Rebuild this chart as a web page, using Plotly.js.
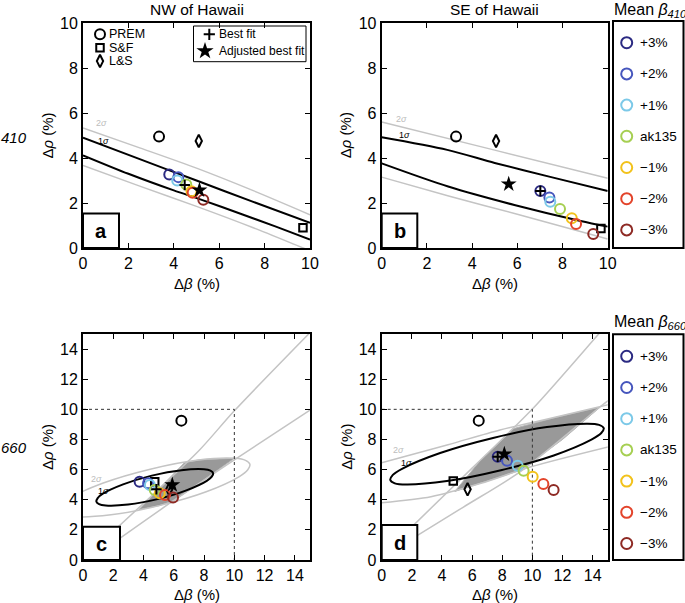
<!DOCTYPE html>
<html><head><meta charset="utf-8">
<script src="https://cdn.plot.ly/plotly-3.0.1.min.js"></script>
<style>html,body{margin:0;padding:0;background:#fff}#chart{width:685px;height:603px}</style>
</head><body><div id="chart"></div>
<script>
// ================= DATA =================
const meanLabels = ['+3%', '+2%', '+1%', 'ak135', '\u22121%', '\u22122%', '\u22123%'];
const meanColors = ['#2b2a82', '#4656bd', '#7cc9e8', '#a6cf52', '#f2c21b', '#e3442b', '#8e2a24'];
const refNames = ['PREM', 'S&F', 'L&S'];
const refSymbols = ['circle-open', 'square-open', 'diamond-tall-open'];
const refSizes = [10, 7.5, 9];
const fitNames = ['Best fit', 'Adjusted best fit'];

// Panel a: 410, NW of Hawaii
const aRefX = [3.35, 9.69, 5.1];
const aRefY = [4.95, 0.9, 4.76];
const aMeanX = [3.8, 4.2, 4.15, 4.55, 4.78, 4.83, 5.3];
const aMeanY = [3.27, 3.15, 3.0, 2.82, 2.52, 2.45, 2.14];
const aBestX = [4.48], aBestY = [2.8];
const aAdjX = [5.13], aAdjY = [2.57];
const a1UpX = [0, 2.5, 5, 7.5, 10], a1UpY = [4.9, 3.95, 3.0, 2.05, 1.12];
const a1LoX = [0, 2, 4, 5.2, 7, 8.5, 10], a1LoY = [4.12, 3.3, 2.56, 2.15, 1.5, 0.95, 0.38];
const a2UpX = [0, 2.5, 5, 7.5, 10], a2UpY = [5.33, 4.45, 3.55, 2.55, 1.48];
const a2LoX = [0, 2.5, 5, 7.5, 9.7, 10.2], a2LoY = [3.67, 2.75, 1.85, 0.9, 0.0, -0.2];

// Panel b: 410, SE of Hawaii
const bRefX = [3.29, 9.7, 5.06];
const bRefY = [4.95, 0.87, 4.75];
const bMeanX = [7.02, 7.42, 7.46, 7.89, 8.41, 8.6, 9.36];
const bMeanY = [2.53, 2.24, 2.06, 1.73, 1.32, 1.07, 0.62];
const bBestX = [7.02], bBestY = [2.53];
const bAdjX = [5.62], bAdjY = [2.84];
const b1UpX = [0, 2.9, 5, 7.5, 10], b1UpY = [4.92, 4.36, 3.78, 3.15, 2.53];
const b1LoX = [0, 2.94, 5.87, 8.8, 10], b1LoY = [3.76, 2.73, 1.91, 1.2, 0.95];
const b2UpX = [0, 5, 10], b2UpY = [5.6, 4.35, 3.1];
const b2LoX = [0, 3, 6, 10], b2LoY = [3.15, 2.3, 1.5, 0.4];

// Panel c: 660, NW of Hawaii
const cRefX = [6.5, 4.74, 5.7];
const cRefY = [9.25, 5.2, 4.7];
const cMeanX = [3.74, 4.3, 4.42, 4.74, 5.07, 5.42, 5.95];
const cMeanY = [5.2, 5.09, 4.98, 4.65, 4.43, 4.31, 4.14];
const cBestX = [4.85], cBestY = [4.7];
const cAdjX = [5.9], cAdjY = [4.98];
const c1X = [4.55, 2.65, 1.31, 0.97, 0.88, 1.06, 1.50, 2.98, 4.93, 6.83, 8.18, 8.51, 8.60, 8.42, 7.99, 6.51, 4.55];
const c1Y = [5.60, 5.02, 4.40, 4.11, 3.88, 3.71, 3.62, 3.68, 4.04, 4.62, 5.25, 5.53, 5.76, 5.93, 6.02, 5.96, 5.60];
const c2X = [4.44, 1.34, -0.85, -1.55, -0.56, 1.85, 5.04, 8.14, 10.33, 10.89, 11.03, 10.74, 10.04, 7.63, 4.44];
const c2Y = [6.03, 5.11, 4.10, 3.29, 2.89, 3.00, 3.61, 4.53, 5.54, 5.99, 6.35, 6.61, 6.75, 6.64, 6.03];
const cLineAX = [2.0, 5.0, 7.7, 10.0, 15.2], cLineAY = [1.9, 4.7, 7.3, 9.9, 15.3];
const cLineBX = [2.0, 6.0, 10.0, 15.0], cLineBY = [1.13, 3.95, 6.65, 9.95];
const cShadeX = [3.7, 5.0, 6.7, 7.63, 9.0, 10.0, 8.0, 6.0, 5.04, 3.7];
const cShadeY = [3.35, 4.72, 6.45, 6.64, 6.72, 6.75, 5.33, 3.93, 3.61, 3.35];

// Panel d: 660, SE of Hawaii
const dRefX = [6.44, 4.75, 5.7];
const dRefY = [9.25, 5.24, 4.69];
const dMeanX = [7.7, 8.32, 9.02, 9.42, 10.02, 10.73, 11.41];
const dMeanY = [6.86, 6.59, 6.26, 5.93, 5.53, 5.04, 4.65];
const dBestX = [7.7], dBestY = [6.86];
const dAdjX = [8.14], dAdjY = [7.03];
const d1X = [7.39, 3.88, 1.38, 0.74, 0.57, 0.87, 1.64, 4.33, 7.91, 11.42, 13.92, 14.56, 14.74, 14.43, 13.66, 10.97, 7.39];
const d1Y = [8.10, 7.10, 6.07, 5.65, 5.31, 5.09, 5.01, 5.24, 5.96, 6.94, 7.99, 8.41, 8.75, 8.97, 9.05, 8.82, 8.10];
const d2UpX = [0, 4.4, 7.85, 11.5, 15.2], d2UpY = [6.45, 7.65, 8.63, 9.47, 10.35];
const d2LoX = [0, 3.27, 6.59, 9.91, 15.2], d2LoY = [3.8, 4.2, 5.09, 6.19, 7.55];
const dLineAX = [2.0, 6.0, 10.05, 14.4, 15.2], dLineAY = [2.2, 6.1, 10.07, 15.0, 15.9];
const dLineBX = [2.0, 5.4, 9.25, 14.5, 15.2], dLineBY = [1.4, 3.5, 5.9, 10.17, 10.7];
const dShadeX = [4.85, 6.5, 8.75, 11.5, 14.5, 12.0, 9.25, 7.5, 6.0, 4.85];
const dShadeY = [4.55, 6.55, 8.72, 9.45, 10.15, 8.0, 5.97, 5.4, 4.93, 4.55];

// dotted prior box (c, d)
const boxX = [0, 10, 10], boxY = [10, 10, 0];

// ================= LAYOUT HELPERS =================
const W = 685, H = 603;
const FONT = '"Liberation Sans", Arial, Helvetica, sans-serif';
function ax(px, range, anchor) {
  return {domain: [px[0] / W, px[1] / W], range: range, anchor: anchor, tick0: 0, dtick: 2,
    showgrid: false, zeroline: false, showline: true, linecolor: '#000', linewidth: 2,
    mirror: 'ticks', ticks: 'inside', ticklen: 5, tickwidth: 1, tickcolor: '#000',
    tickfont: {size: 16, color: '#000', family: FONT}, fixedrange: true};
}
function ay(py, range, anchor) {
  return {domain: [1 - py[1] / H, 1 - py[0] / H], range: range, anchor: anchor, tick0: 0, dtick: 2,
    showgrid: false, zeroline: false, showline: true, linecolor: '#000', linewidth: 2,
    mirror: 'ticks', ticks: 'inside', ticklen: 5, tickwidth: 1, tickcolor: '#000',
    tickfont: {size: 16, color: '#000', family: FONT}, fixedrange: true};
}

const traces = [];
function ln(x, y, xa, ya, color, width, dash, spline) {
  traces.push({type: 'scatter', mode: 'lines', x: x, y: y, xaxis: xa, yaxis: ya, hoverinfo: 'skip',
    line: {color: color, width: width, dash: dash || 'solid', shape: spline ? 'spline' : 'linear', smoothing: 0.8}});
}
function shade(x, y, xa, ya) {
  traces.push({type: 'scatter', mode: 'lines', x: x, y: y, xaxis: xa, yaxis: ya, fill: 'toself',
    fillcolor: '#999999', line: {color: '#b3b3b3', width: 1}, hoverinfo: 'skip'});
}
function blackMarker(x, y, xa, ya, symbol, size, lw) {
  traces.push({type: 'scatter', mode: 'markers', x: x, y: y, xaxis: xa, yaxis: ya, cliponaxis: false, hoverinfo: 'skip',
    marker: {symbol: symbol, size: size, color: '#000000', opacity: 1, line: {color: '#000000', width: lw}}});
}
function markers(p, xa, ya) {
  refSymbols.forEach(function (s, i) { blackMarker([p.refX[i]], [p.refY[i]], xa, ya, s, refSizes[i], 2); });
  traces.push({type: 'scatter', mode: 'markers', x: p.meanX, y: p.meanY, xaxis: xa, yaxis: ya, cliponaxis: false,
    marker: {symbol: 'circle-open', size: 10, color: meanColors, line: {width: 2}}, hoverinfo: 'skip'});
  blackMarker(p.bestX, p.bestY, xa, ya, 'cross-thin-open', 7.5, 2);
  blackMarker(p.adjX, p.adjY, xa, ya, 'star', 12, 0);
}

const GRAY = '#c4c4c4';
// Panel a
ln(a2UpX, a2UpY, 'x', 'y', GRAY, 1.5, null, true);
ln(a2LoX, a2LoY, 'x', 'y', GRAY, 1.5, null, true);
ln(a1UpX, a1UpY, 'x', 'y', '#000', 2, null, true);
ln(a1LoX, a1LoY, 'x', 'y', '#000', 2, null, true);
markers({refX: aRefX, refY: aRefY, meanX: aMeanX, meanY: aMeanY, bestX: aBestX, bestY: aBestY, adjX: aAdjX, adjY: aAdjY}, 'x', 'y');
// Panel b
ln(b2UpX, b2UpY, 'x2', 'y2', GRAY, 1.5, null, true);
ln(b2LoX, b2LoY, 'x2', 'y2', GRAY, 1.5, null, true);
ln(b1UpX, b1UpY, 'x2', 'y2', '#000', 2, null, true);
ln(b1LoX, b1LoY, 'x2', 'y2', '#000', 2, null, true);
markers({refX: bRefX, refY: bRefY, meanX: bMeanX, meanY: bMeanY, bestX: bBestX, bestY: bBestY, adjX: bAdjX, adjY: bAdjY}, 'x2', 'y2');
// Panel c
shade(cShadeX, cShadeY, 'x3', 'y3');
ln(cLineAX, cLineAY, 'x3', 'y3', GRAY, 1.5, null, true);
ln(cLineBX, cLineBY, 'x3', 'y3', GRAY, 1.5, null, true);
ln(c2X, c2Y, 'x3', 'y3', GRAY, 1.5, null, true);
ln(c1X, c1Y, 'x3', 'y3', '#000', 2, null, true);
ln(boxX, boxY, 'x3', 'y3', '#333', 1, 'dot', false);
markers({refX: cRefX, refY: cRefY, meanX: cMeanX, meanY: cMeanY, bestX: cBestX, bestY: cBestY, adjX: cAdjX, adjY: cAdjY}, 'x3', 'y3');
// Panel d
shade(dShadeX, dShadeY, 'x4', 'y4');
ln(dLineAX, dLineAY, 'x4', 'y4', GRAY, 1.5, null, true);
ln(dLineBX, dLineBY, 'x4', 'y4', GRAY, 1.5, null, true);
ln(d2UpX, d2UpY, 'x4', 'y4', GRAY, 1.5, null, true);
ln(d2LoX, d2LoY, 'x4', 'y4', GRAY, 1.5, null, true);
ln(d1X, d1Y, 'x4', 'y4', '#000', 2, null, true);
ln(boxX, boxY, 'x4', 'y4', '#333', 1, 'dot', false);
markers({refX: dRefX, refY: dRefY, meanX: dMeanX, meanY: dMeanY, bestX: dBestX, bestY: dBestY, adjX: dAdjX, adjY: dAdjY}, 'x4', 'y4');

// ===== Legend glyphs on a full-figure pixel overlay axis (x5/y5) =====
const refLegX = 100, refLegY0 = 34.3, refLegStep = 13.4;
refSymbols.forEach(function (s, i) { blackMarker([refLegX], [refLegY0 + i * refLegStep], 'x5', 'y5', s, refSizes[i], 2); });
blackMarker([209.3], [34.3], 'x5', 'y5', 'cross-thin-open', 8, 2);
blackMarker([205], [51], 'x5', 'y5', 'star', 13, 0);
const meanLegX = 626.7, meanLegTops = [42.7, 356.3], meanLegStep = 31.2;
meanLegTops.forEach(function (t) {
  traces.push({type: 'scatter', mode: 'markers', xaxis: 'x5', yaxis: 'y5', hoverinfo: 'skip', cliponaxis: false,
    x: meanLabels.map(() => meanLegX), y: meanLabels.map((_, i) => t + i * meanLegStep),
    marker: {symbol: 'circle-open', size: 11, color: meanColors, line: {width: 2}}});
});

// ===== Annotations =====
const ann = [];
function txt(x, y, text, size, opts) {
  ann.push(Object.assign({xref: 'x5', yref: 'y5', x: x, y: y, text: text, showarrow: false,
    font: {size: size, color: '#000', family: FONT}, xanchor: 'center', yanchor: 'middle'}, opts || {}));
}
txt(196.5, 9, 'NW of Hawaii', 15.5);
txt(494.5, 9, 'SE of Hawaii', 15.5);
txt(612, 10, 'Mean <i>\u03b2</i><sub><i>410</i></sub>', 16, {xanchor: 'left'});
txt(612, 322, 'Mean <i>\u03b2</i><sub><i>660</i></sub>', 16, {xanchor: 'left'});
txt(14, 137, '<i>410</i>', 15);
txt(14, 447.5, '<i>660</i>', 15);
[[47, 135.5], [345.7, 135.5], [47, 447], [345.7, 447]].forEach(function (p) {
  txt(p[0], p[1], '\u0394<i>\u03c1</i> (%)', 15, {textangle: -90});
});
[[196.5, 283], [494.5, 283], [196.5, 594], [494.5, 594]].forEach(function (p) {
  txt(p[0], p[1], '\u0394<i>\u03b2</i> (%)', 15);
});
refNames.forEach(function (n, i) { txt(107, refLegY0 + i * refLegStep, n, 12.5, {xanchor: 'left'}); });
fitNames.forEach(function (n, i) { txt(216.5, 34.3 + i * 16.5, n, 12, {xanchor: 'left'}); });
meanLegTops.forEach(function (t) {
  meanLabels.forEach(function (n, i) { txt(637.5, t + i * meanLegStep, n, 13.5, {xanchor: 'left'}); });
});
[['a', 101, 231], ['b', 399.5, 231], ['c', 101.5, 543.5], ['d', 399.5, 543]].forEach(function (p) {
  txt(p[1], p[2], '<b>' + p[0] + '</b>', 20);
});
// sigma labels (data coords)
function sig(xr, yr, x, y, text, color) {
  ann.push({xref: xr, yref: yr, x: x, y: y, text: text, showarrow: false,
    font: {size: 9, color: color, family: FONT}, xanchor: 'center', yanchor: 'middle'});
}
sig('x', 'y', 0.82, 5.55, '2<i>\u03c3</i>', '#bdbdbd');
sig('x', 'y', 0.9, 4.75, '1<i>\u03c3</i>', '#000');
sig('x2', 'y2', 0.88, 5.75, '2<i>\u03c3</i>', '#bdbdbd');
sig('x2', 'y2', 1.03, 5.02, '1<i>\u03c3</i>', '#000');
sig('x3', 'y3', 0.9, 5.35, '2<i>\u03c3</i>', '#bdbdbd');
sig('x3', 'y3', 1.34, 4.6, '1<i>\u03c3</i>', '#000');
sig('x4', 'y4', 1.1, 7.3, '2<i>\u03c3</i>', '#bdbdbd');
sig('x4', 'y4', 1.66, 6.45, '1<i>\u03c3</i>', '#000');

// ===== Shapes (legend frames, panel letter boxes) =====
const shp = [];
function rect(x0, y0, x1, y1, w, fill) {
  shp.push({type: 'rect', xref: 'x5', yref: 'y5', x0: x0, y0: y0, x1: x1, y1: y1, layer: 'above',
    line: {color: '#000', width: w}, fillcolor: fill || 'rgba(0,0,0,0)'});
}
rect(193.5, 26, 306, 61.7, 1);
rect(613, 21, 683.5, 248, 2);
rect(613, 334.3, 683.5, 560, 2);
rect(83, 213.5, 119, 248, 2, '#fff');
rect(381.7, 213.5, 417.3, 248, 2, '#fff');
rect(83, 526.7, 120, 560, 2, '#fff');
rect(381.7, 525, 417.3, 560, 2, '#fff');

const layout = {
  width: W, height: H, margin: {l: 0, r: 0, t: 0, b: 0}, paper_bgcolor: '#fff', plot_bgcolor: 'rgba(0,0,0,0)',
  showlegend: false, font: {family: FONT, color: '#000'},
  xaxis: ax([83, 310], [0, 10], 'y'), yaxis: ay([23, 248], [0, 10], 'x'),
  xaxis2: ax([381.7, 607.7], [0, 10], 'y2'), yaxis2: ay([23, 248], [0, 10], 'x2'),
  xaxis3: ax([83, 310], [0, 15], 'y3'), yaxis3: ay([334, 560], [0, 15], 'x3'),
  xaxis4: ax([381.7, 607.7], [0, 15], 'y4'), yaxis4: ay([334, 560], [0, 15], 'x4'),
  xaxis5: {domain: [0, 1], range: [0, W], anchor: 'y5', visible: false, fixedrange: true},
  yaxis5: {domain: [0, 1], range: [H, 0], anchor: 'x5', visible: false, fixedrange: true},
  annotations: ann, shapes: shp
};
Plotly.newPlot('chart', traces, layout, {displayModeBar: false, staticPlot: true});
</script></body></html>
